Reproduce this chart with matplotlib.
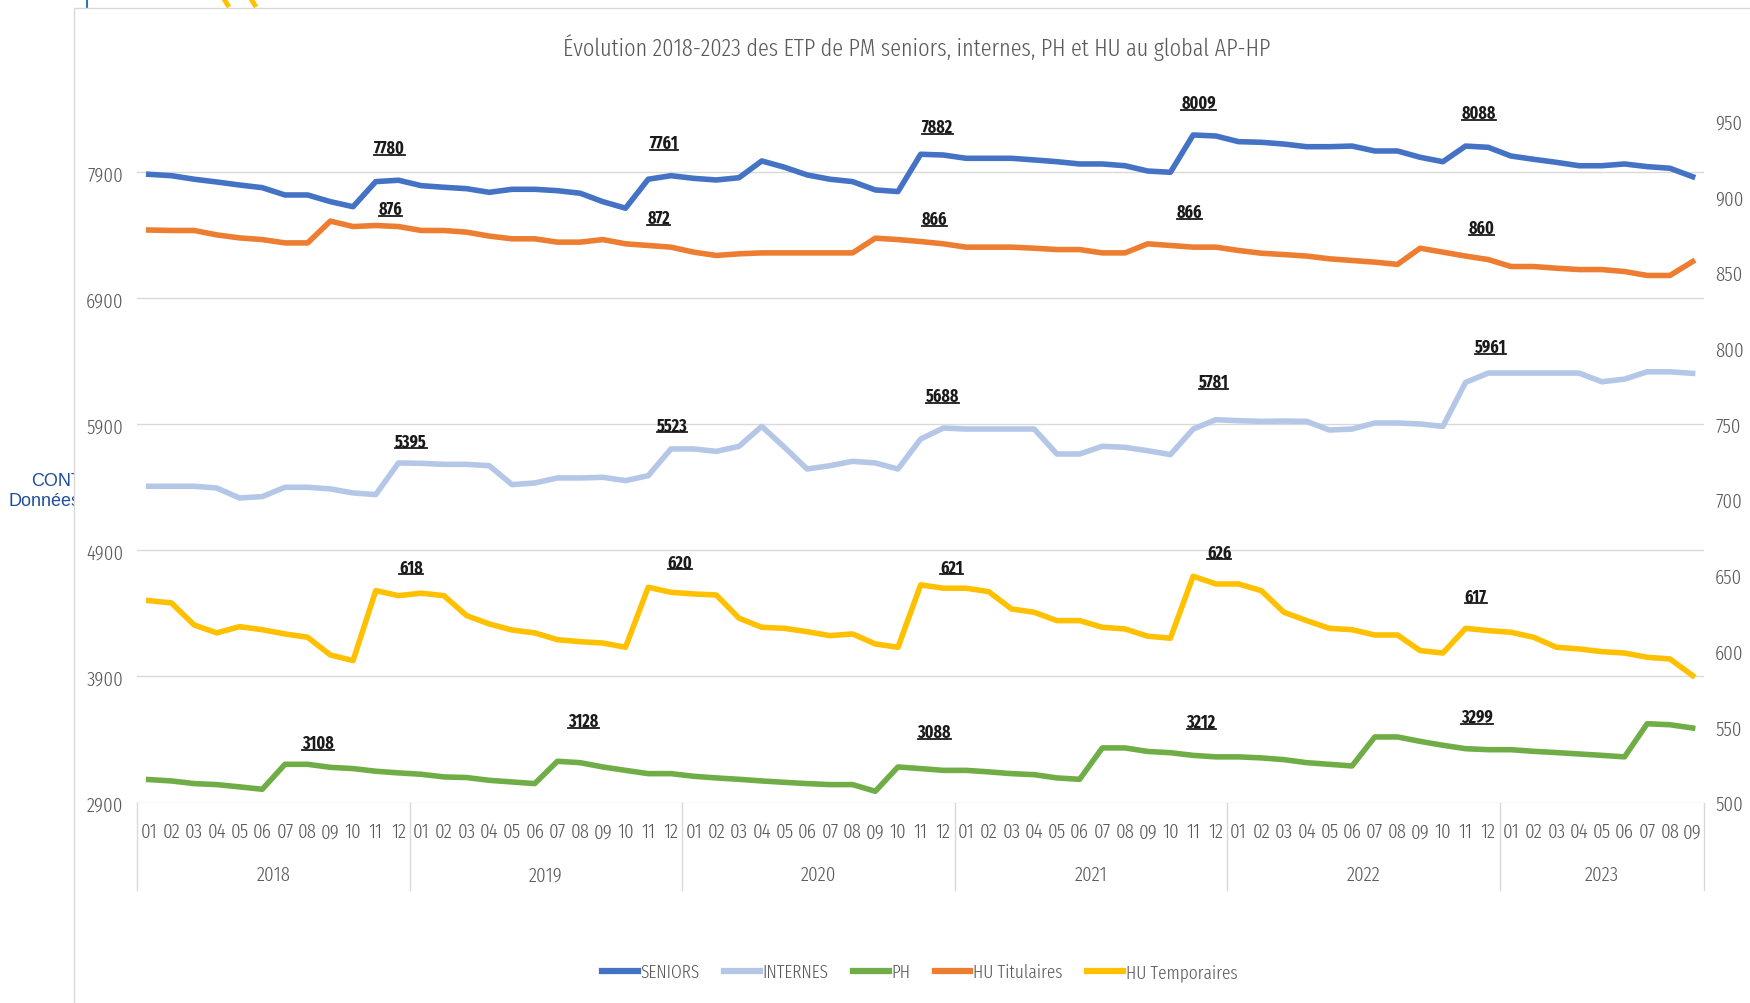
import matplotlib
matplotlib.use("Agg")
import matplotlib.pyplot as plt
from matplotlib.lines import Line2D
from matplotlib.patches import Rectangle
from matplotlib.transforms import blended_transform_factory

years = [2018, 2019, 2020, 2021, 2022, 2023]
months_per_year = [12, 12, 12, 12, 12, 9]

# ETP mensuels (axe gauche)
seniors = [7884, 7873, 7845, 7823, 7799, 7778, 7720, 7720, 7667, 7627, 7826, 7837,
           7794, 7781, 7770, 7741, 7765, 7765, 7754, 7734, 7667, 7615, 7845, 7873,
           7852, 7839, 7857, 7990, 7940, 7879, 7845, 7826, 7760, 7747, 8043, 8037,
           8011, 8011, 8011, 7998, 7984, 7966, 7966, 7952, 7910, 7900, 8196, 8188,
           8143, 8138, 8124, 8103, 8103, 8108, 8069, 8069, 8019, 7984, 8108, 8098,
           8029, 8003, 7979, 7952, 7952, 7966, 7945, 7932, 7865]
internes = [5409, 5409, 5409, 5395, 5316, 5327, 5401, 5401, 5388, 5356, 5343, 5594,
            5591, 5583, 5583, 5572, 5422, 5435, 5475, 5475, 5480, 5454, 5493, 5705,
            5705, 5686, 5726, 5884, 5718, 5546, 5572, 5607, 5594, 5546, 5784, 5871,
            5863, 5863, 5863, 5863, 5665, 5665, 5726, 5718, 5691, 5660, 5863, 5937,
            5929, 5924, 5926, 5924, 5855, 5863, 5911, 5911, 5903, 5884, 6233, 6307,
            6307, 6307, 6307, 6307, 6238, 6259, 6317, 6317, 6305]
ph = [3082, 3071, 3050, 3042, 3024, 3005, 3203, 3203, 3179, 3169, 3148, 3135,
      3124, 3103, 3098, 3076, 3063, 3050, 3227, 3216, 3182, 3155, 3129, 3129,
      3108, 3095, 3084, 3071, 3060, 3050, 3042, 3042, 2989, 3182, 3169, 3155,
      3155, 3143, 3129, 3121, 3095, 3084, 3333, 3333, 3305, 3295, 3274, 3262,
      3262, 3254, 3240, 3216, 3203, 3190, 3420, 3420, 3385, 3354, 3327, 3319,
      3319, 3306, 3296, 3285, 3274, 3262, 3525, 3517, 3491]

# ETP mensuels (axe droit)
hu_titulaires = [878.0, 877.7, 877.7, 874.8, 872.8, 871.7, 869.5, 869.5, 883.9, 880.3, 881.0, 880.3,
                 877.7, 877.7, 876.6, 874.0, 872.2, 872.2, 870.0, 870.0, 871.7, 868.9, 867.8, 866.7,
                 863.4, 861.2, 862.3, 862.9, 862.9, 862.9, 862.9, 862.9, 872.6, 871.7, 870.4, 868.9,
                 866.7, 866.7, 866.7, 866.0, 865.1, 865.1, 862.9, 862.9, 868.9, 867.8, 866.7, 866.7,
                 864.5, 862.7, 861.8, 860.8, 859.0, 857.9, 856.8, 855.3, 866.0, 863.4, 860.8, 858.5,
                 853.9, 853.9, 852.8, 851.9, 851.9, 850.6, 848.0, 848.0, 857.2]
hu_temporaires = [633.3, 631.8, 617.2, 612.0, 616.1, 614.1, 611.3, 609.1, 597.4, 593.7, 639.9, 636.6,
                  638.2, 636.6, 623.4, 617.9, 613.9, 612.0, 607.5, 606.2, 605.3, 602.5, 642.1, 638.8,
                  637.7, 637.0, 621.7, 615.7, 615.0, 612.8, 610.2, 611.3, 604.7, 602.5, 643.7, 641.5,
                  641.5, 639.2, 627.8, 625.6, 620.1, 620.1, 615.7, 614.6, 609.8, 608.5, 649.4, 644.3,
                  644.3, 639.9, 625.6, 620.1, 615.0, 614.1, 610.6, 610.6, 600.3, 598.7, 615.0, 613.5,
                  612.4, 609.1, 602.5, 601.4, 599.6, 598.7, 595.9, 594.8, 583.8]

# moyennes annuelles posées en étiquettes
avg_seniors = ["7780", "7761", "7882", "8009", "8088"]
avg_titulaires = ["876", "872", "866", "866", "860"]
avg_internes = ["5395", "5523", "5688", "5781", "5961"]
avg_temporaires = ["618", "620", "621", "626", "617"]
avg_ph = ["3108", "3128", "3088", "3212", "3299"]

# où elles sont posées : (mois, hauteur sur l'axe gauche)
pos_seniors = [(10.6, 8093), (22.7, 8132), (34.75, 8259), (46.25, 8450), (58.6, 8370)]
pos_titulaires = [(10.65, 7609), (22.45, 7538), (34.6, 7530), (45.85, 7585), (58.7, 7458)]
pos_internes = [(11.55, 5763), (23.05, 5890), (34.95, 6127), (46.9, 6238), (59.1, 6516)]
pos_temporaires = [(11.55, 4765), (23.4, 4805), (35.35, 4765), (47.15, 4884), (58.45, 4535)]
pos_ph = [(7.45, 3370), (19.15, 3544), (34.6, 3457), (46.35, 3536), (58.5, 3576)]

plt.rcParams['font.family'] = ['Fira Sans Extra Condensed', 'DejaVu Sans']
plt.rcParams['font.weight'] = 300
grey = '#595959'
c_sen, c_int, c_ph, c_tit, c_tem = '#4472C4', '#B4C7E7', '#70AD47', '#ED7D31', '#FFC000'
tick_size = 14.8

fig = plt.figure(figsize=(17.5, 10.04), dpi=100)

# bouts de la diapo autour du graphique, masqués par le cadre blanc du graphique
for txt, x, y in [("CONTEXTE", 31, 482), ("Données", 9, 502)]:
    fig.text(x / 1750, 1 - y / 1004, txt, color='#1F4E9A', fontsize=13, fontweight='normal',
             family=['Liberation Sans', 'DejaVu Sans'], va='center', ha='left', zorder=0.1)
fig.add_artist(Line2D([87 / 1750, 87 / 1750], [0.99, 1], color='#2E75B6', lw=1.5, zorder=0.1))
for x0 in (224, 251):
    fig.add_artist(Line2D([x0 / 1750, (x0 + 5) / 1750], [1, 1 - 8 / 1004], color='#FFC000',
                          lw=3.5, zorder=0.1, solid_capstyle='butt'))
fig.add_artist(Rectangle((73.7 / 1750, -0.1), 1.1, 0.1 + 0.991, facecolor='white',
                         edgecolor='#D9D9D9', lw=1, zorder=0.2))

ax = fig.add_axes([0.0785, 0.1997, 0.8952, 0.6788])
ax2 = ax.twinx()
ax.set_zorder(1)
ax2.set_zorder(1.1)
ax.patch.set_visible(False)

x = list(range(len(seniors)))
lw = 4
ax.plot(x, seniors, color=c_sen, lw=lw, solid_joinstyle='round')
ax.plot(x, internes, color=c_int, lw=lw, solid_joinstyle='round')
ax.plot(x, ph, color=c_ph, lw=lw, solid_joinstyle='round')
ax2.plot(x, hu_titulaires, color=c_tit, lw=lw, solid_joinstyle='round')
ax2.plot(x, hu_temporaires, color=c_tem, lw=lw, solid_joinstyle='round')

ax.set_xlim(-0.5, len(x) - 0.5)
ax.set_ylim(2900, 8307)
ax2.set_ylim(500, 950)
ax.set_yticks(range(2900, 7901, 1000))
ax2.set_yticks(range(500, 951, 50))
ax.yaxis.grid(True, color='#D9D9D9', lw=1)
ax.set_axisbelow(True)
for a in (ax, ax2):
    for s in a.spines.values():
        s.set_visible(False)
ax.tick_params(axis='y', length=0, pad=10, labelsize=tick_size, labelcolor=grey)
ax2.tick_params(axis='y', length=0, pad=8, labelsize=tick_size, labelcolor=grey)

month_labels = []
for n in months_per_year:
    month_labels += ["%02d" % m for m in range(1, n + 1)]
ax.set_xticks(x)
ax.set_xticklabels(month_labels)
ax.tick_params(axis='x', length=0, pad=14, labelsize=tick_size, labelcolor=grey)

trans = blended_transform_factory(ax.transData, ax.transAxes)
start = 0
edges = [-0.5]
for yr, n in zip(years, months_per_year):
    ax.text(start + (n - 1) / 2, -0.1057, str(yr), transform=trans, ha='center',
            va='center', fontsize=tick_size, color=grey)
    start += n
    edges.append(start - 0.5)
for e in edges:
    ax.plot([e, e], [0, -0.128], transform=trans, color='#D9D9D9', lw=1, clip_on=False)

label_texts = []
for vals, pos in [(avg_seniors, pos_seniors), (avg_titulaires, pos_titulaires),
                  (avg_internes, pos_internes), (avg_temporaires, pos_temporaires),
                  (avg_ph, pos_ph)]:
    for v, (mx, my) in zip(vals, pos):
        t = ax.text(mx, my, v, ha='center', va='center', fontsize=12.5,
                    fontweight='bold', color='#1A1A1A', clip_on=False)
        label_texts.append(t)

fig.text(0.5237, 0.953, "Évolution 2018-2023 des ETP de PM seniors, internes, PH et HU au global AP-HP",
         ha='center', va='center', fontsize=17.5, color=grey)

handles = [Line2D([], [], color=c, lw=4.5) for c in (c_sen, c_int, c_ph, c_tit, c_tem)]
names = ['SENIORS', 'INTERNES', 'PH', 'HU Titulaires', 'HU Temporaires']
fig.legend(handles, names, loc='center', bbox_to_anchor=(0.5255, 0.031), ncol=5,
           frameon=False, fontsize=13.5, handlelength=1.9, handletextpad=0.15,
           columnspacing=1.3, labelcolor=grey)

# soulignement des étiquettes
fig.canvas.draw()
r = fig.canvas.get_renderer()
W, H = fig.bbox.width, fig.bbox.height
for t in label_texts:
    bb = t.get_window_extent(r)
    y = bb.y0 + 2
    fig.add_artist(Line2D([bb.x0 / W, bb.x1 / W], [y / H, y / H], color='#1A1A1A', lw=1.3, zorder=6))

fig.savefig('out.png', dpi=100)
